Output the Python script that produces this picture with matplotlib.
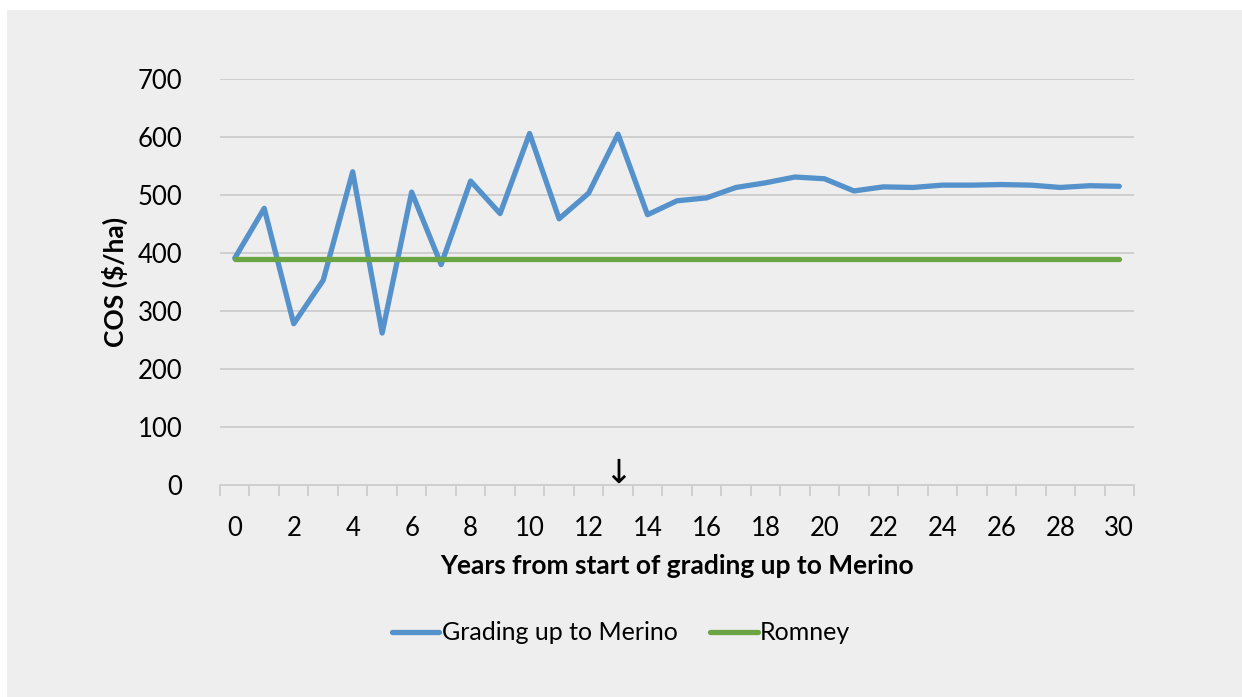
import numpy as np
import matplotlib.pyplot as plt
from matplotlib.patches import Rectangle

years = list(range(0, 31))
merino = [391, 477, 278, 353, 540, 262, 505, 380, 524, 468,
          606, 459, 503, 605, 466, 490, 495, 513, 521, 531,
          528, 507, 514, 513, 517, 517, 518, 517, 513, 516, 515]
romney = [390] * 31
marked_year = 13

fam = ['Lato', 'DejaVu Sans']
plt.rcParams['font.family'] = fam

fig = plt.figure(figsize=(12.42, 6.97), dpi=100)
fig.patch.set_facecolor('white')
# grey panel behind the chart
fig.patches.append(Rectangle((7 / 1242, 0), 1, 1 - 10 / 697, transform=fig.transFigure,
                             facecolor='#EEEEEE', edgecolor='none', zorder=-10))

W, H = 1242, 697
ax = fig.add_axes([220 / W, 1 - 485 / H, (1134 - 220) / W, (485 - 79) / H])
ax.set_facecolor('none')

ax.plot(years, merino, color='#5592CB', lw=3.8, solid_capstyle='round',
        solid_joinstyle='round', label='Grading up to Merino', zorder=3)
ax.plot(years, romney, color='#6AA443', lw=3.8, solid_capstyle='round',
        label='Romney', zorder=3)

ax.set_xlim(-0.5, 30.5)
ax.set_ylim(0, 700)
ax.set_yticks(np.arange(0, 701, 100))
ax.yaxis.grid(True, color='#CFCFCF', lw=1.4)
ax.set_axisbelow(True)
ax.tick_params(axis='y', length=0, pad=27, labelsize=18.5)

# category ticks sit between the years, labels on even years
ax.set_xticks(np.arange(-0.5, 31, 1))
ax.set_xticklabels([])
ax.set_xticks(range(0, 31, 2), minor=True)
ax.set_xticklabels([str(y) for y in range(0, 31, 2)], minor=True, fontsize=18.5)
ax.tick_params(axis='x', which='major', length=8, color='#CFCFCF', width=1.4)
ax.tick_params(axis='x', which='minor', length=0, pad=22)

for s in ['left', 'right', 'top']:
    ax.spines[s].set_visible(False)
ax.spines['bottom'].set_color('#CFCFCF')
ax.spines['bottom'].set_linewidth(1.4)

ax.set_xlabel('Years from start of grading up to Merino', fontsize=19,
              fontweight='bold', labelpad=10)
ax.set_ylabel('COS ($/ha)', fontsize=19, fontweight='bold')
ax.yaxis.set_label_coords(-0.1007, 0.5)

ax.text(marked_year, -8, '\u2193', ha='center', va='bottom', fontsize=24,
        family=['DejaVu Sans'], color='black')

ax.legend(loc='center', bbox_to_anchor=(0.5, 1 - 633 / H), bbox_transform=fig.transFigure,
          ncol=2, frameon=False, fontsize=18, handlelength=1.9, handletextpad=0.1,
          columnspacing=1.3)

fig.savefig('out.png', dpi=100, facecolor=fig.get_facecolor())
